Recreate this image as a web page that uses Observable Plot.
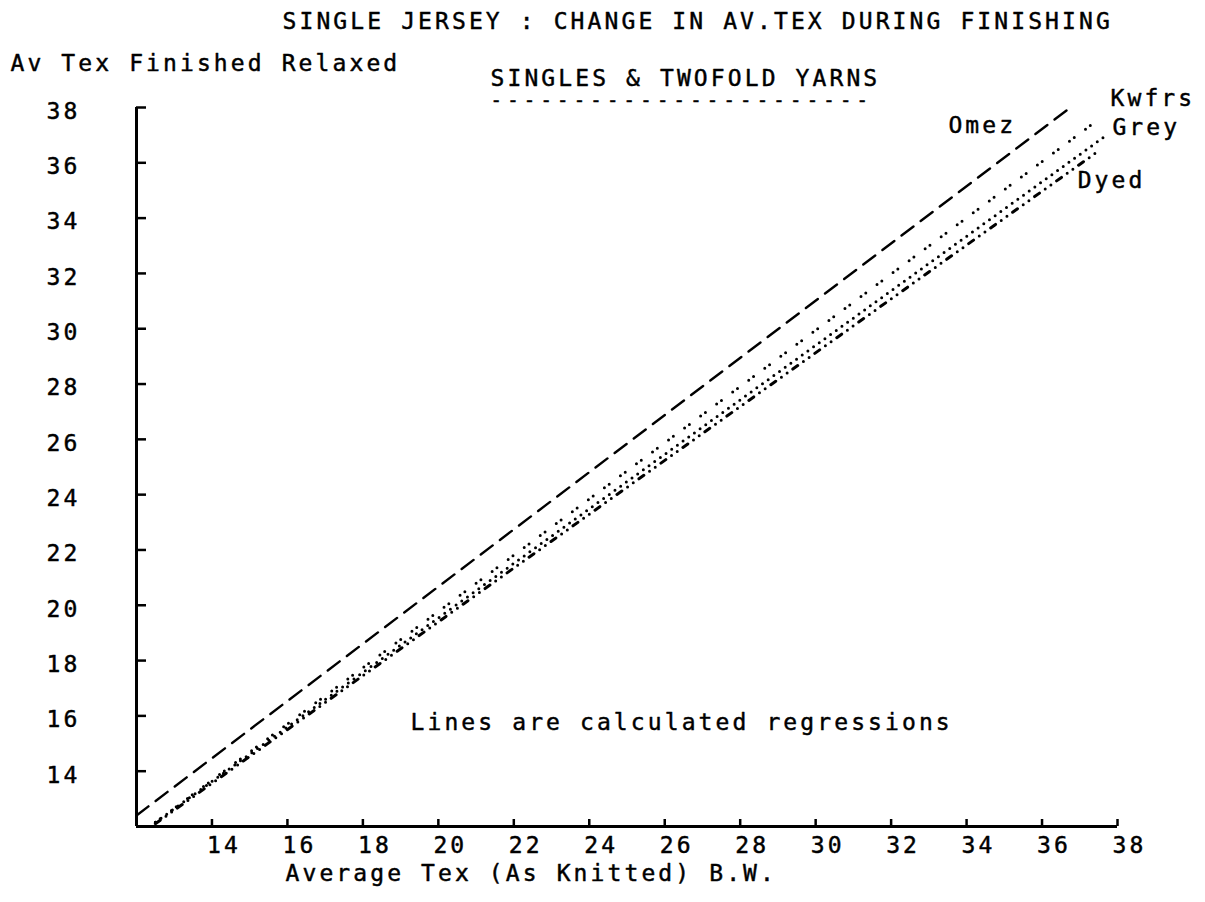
<!DOCTYPE html>
<html><head><meta charset="utf-8">
<script src="https://cdn.jsdelivr.net/npm/d3@7"></script>
<script src="https://cdn.jsdelivr.net/npm/@observablehq/plot@0.6"></script>
<style>html,body{margin:0;padding:0;background:#fff;}</style>
</head><body><div id="chart"></div>
<script>
// Regression lines: start and end points
const series = ["Omez", "Kwfrs", "Grey", "Dyed"];
const xStart = [12, 12.5, 12.5, 12.5];
const yStart = [12.4, 12.15, 12.15, 12.1];
const xEnd = [36.8, 37.55, 37.68, 37.5];
const yEnd = [38.05, 37.62, 36.97, 36.43];

const xTicks = [14, 16, 18, 20, 22, 24, 26, 28, 30, 32, 34, 36, 38];
const yTicks = [14, 16, 18, 20, 22, 24, 26, 28, 30, 32, 34, 36, 38];

const title = "SINGLE JERSEY : CHANGE IN AV.TEX DURING FINISHING";
const subtitle = "SINGLES & TWOFOLD YARNS";
const subtitleRule = "-----------------------";
const yLabel = "Av Tex Finished Relaxed";
const xLabel = "Average Tex (As Knitted) B.W.";
const note = "Lines are calculated regressions";

const rows = series.flatMap((s, i) => [
  {series: s, x: xStart[i], y: yStart[i], end: false},
  {series: s, x: xEnd[i], y: yEnd[i], end: true}
]);

const dash = {Omez: "15 9", Kwfrs: "0 6 0 14", Grey: "0 7", Dyed: "6 7 0 7 0 7"};
const labelOffset = {Omez: [-56, 20, "end"], Kwfrs: [10, -19, "start"], Grey: [7, -8, "start"], Dyed: [-21, 30, "start"]};

const ink = {fill: "black", stroke: "black", strokeWidth: 0.45};

const lineMarks = series.map(s => Plot.line(rows.filter(d => d.series === s), {
  x: "x", y: "y", stroke: "black",
  strokeWidth: s === "Omez" ? 2.4 : 3,
  strokeDasharray: dash[s], strokeLinecap: "round"
}));
const labelMarks = series.map(s => Plot.text(rows.filter(d => d.series === s && d.end), {
  x: "x", y: "y", text: "series", lineAnchor: "middle", ...ink,
  dx: labelOffset[s][0], dy: labelOffset[s][1], textAnchor: labelOffset[s][2]
}));
const freeText = (t, dx, dy, extra = {}) => Plot.text([t], {frameAnchor: "top-left", textAnchor: "start", lineAnchor: "middle", dx, dy, text: d => d, ...ink, ...extra});

const chart = Plot.plot({
  width: 1205, height: 902,
  marginLeft: 136, marginRight: 88, marginTop: 107, marginBottom: 76,
  x: {domain: [12, 38], axis: null},
  y: {domain: [12, 38], axis: null},
  style: {fontFamily: "'DejaVu Sans Mono', monospace", fontSize: "23px", letterSpacing: "3.1px", color: "black", background: "white"},
  marks: [
    ...lineMarks,
    Plot.ruleX([12], {strokeWidth: 3}),
    Plot.ruleY([12], {strokeWidth: 3}),
    Plot.ruleY(yTicks, {y: d => d, x1: 12, x2: 12, insetRight: -10, strokeWidth: 2.5}),
    Plot.ruleX(xTicks, {x: d => d, y1: 12, y2: 12, insetBottom: 7, strokeWidth: 2.5}),
    Plot.text(xTicks, {x: d => d, frameAnchor: "bottom", lineAnchor: "middle", textAnchor: "middle", dy: 19, dx: 12, text: d => String(d), ...ink}),
    Plot.text(yTicks, {y: d => d, frameAnchor: "left", lineAnchor: "middle", textAnchor: "middle", dx: -73, dy: 4, text: d => String(d), ...ink}),
    ...labelMarks,
    freeText(title, 146, -86),
    freeText(yLabel, -126, -44),
    freeText(subtitle, 354, -29),
    freeText(subtitleRule, 354, -7, {fontSize: 19}),
    freeText(note, 274, 615),
    freeText(xLabel, 149, 766)
  ]
});
d3.select(chart).selectAll("text").filter(function() { return this.textContent === subtitleRule; })
  .style("letter-spacing", "5.2px");
document.getElementById("chart").appendChild(chart);
</script>
</body></html>
